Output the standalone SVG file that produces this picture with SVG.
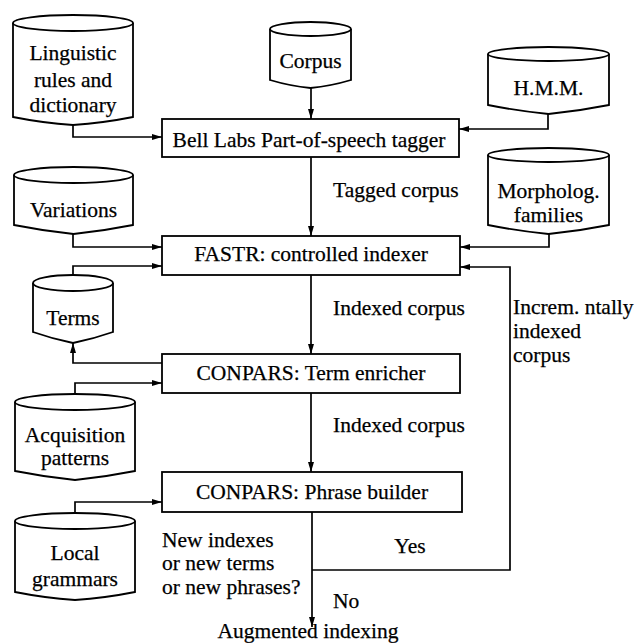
<svg xmlns="http://www.w3.org/2000/svg" width="640" height="643" viewBox="0 0 640 643">
<defs>
<marker id="arr" viewBox="0 0 10 6" refX="10" refY="3" markerWidth="10" markerHeight="6" markerUnits="userSpaceOnUse" orient="auto">
<path d="M0,0 L10,3 L0,6 Z" fill="#000"/>
</marker>
<style>
.sh{fill:#fff;stroke:#000;stroke-width:1.8}
.ln{fill:none;stroke:#000;stroke-width:1.7;marker-end:url(#arr)}
text{font-family:"Liberation Serif","Times New Roman",serif;font-size:21.5px;fill:#000;stroke:#000;stroke-width:0.25}
.c{text-anchor:middle}
</style>
</defs>
<rect width="640" height="643" fill="#fff"/>
<g id="connectors">
<path class="ln" d="M73,125 V137 H162"/>
<path class="ln" d="M311,88 V119"/>
<path class="ln" d="M548,114 V129 H459"/>
<path class="ln" d="M311,157 V236"/>
<path class="ln" d="M73,234 V247 H162"/>
<path class="ln" d="M549,234 V247 H460"/>
<path class="ln" d="M73,275 V266 H162"/>
<path class="ln" d="M312,570 H510 V267 H460"/>
<path class="ln" d="M311,275 V354"/>
<path class="ln" d="M162,363 H73 V343"/>
<path class="ln" d="M75,394 V383 H162"/>
<path class="ln" d="M311,393 V472"/>
<path class="ln" d="M75,513 V502 H162"/>
<path class="ln" d="M312,512 V627"/>
</g>
<g id="linguistic">
<path class="sh" d="M13,23 V117 Q43,123 73,125 Q103,123 133,117 V23"/>
<ellipse class="sh" cx="73" cy="23" rx="60" ry="8"/>
<text class="c" x="73" y="60">Linguistic</text>
<text class="c" x="73" y="87">rules and</text>
<text class="c" x="73" y="112">dictionary</text>
</g>
<g id="corpus">
<path class="sh" d="M270,29 V80 Q290,86 310.5,88 Q331,86 351,80 V29"/>
<ellipse class="sh" cx="310.5" cy="29" rx="40.5" ry="7"/>
<text class="c" x="310.5" y="68">Corpus</text>
</g>
<g id="hmm">
<path class="sh" d="M488,54 V105 Q518,111 548.5,114 Q579,111 609,105 V54"/>
<ellipse class="sh" cx="548.5" cy="54" rx="60.5" ry="7"/>
<text class="c" x="548.5" y="95">H.M.M.</text>
</g>
<g id="tagger">
<rect class="sh" x="162" y="119" width="297" height="38"/>
<text class="c" x="309" y="147">Bell Labs Part-of-speech tagger</text>
</g>
<g id="variations">
<path class="sh" d="M14,175 V225 Q44,231 73.5,234 Q103,231 133,225 V175"/>
<ellipse class="sh" cx="73.5" cy="175" rx="59.5" ry="8"/>
<text class="c" x="73.5" y="217">Variations</text>
</g>
<g id="morpholog">
<path class="sh" d="M488,155 V225 Q518,231 548.5,234 Q579,231 609,225 V155"/>
<ellipse class="sh" cx="548.5" cy="155" rx="60.5" ry="7"/>
<text class="c" x="548.5" y="198">Morpholog.</text>
<text class="c" x="548.5" y="222">families</text>
</g>
<g id="fastr">
<rect class="sh" x="162" y="236" width="298" height="39"/>
<text class="c" x="311" y="261">FASTR: controlled indexer</text>
</g>
<g id="terms">
<path class="sh" d="M33,283 V332 Q53,339 73,343 Q93,339 113,332 V283"/>
<ellipse class="sh" cx="73" cy="283" rx="40" ry="8"/>
<text class="c" x="73" y="325">Terms</text>
</g>
<g id="enricher">
<rect class="sh" x="162" y="354" width="298" height="39"/>
<text class="c" x="311" y="380">CONPARS: Term enricher</text>
</g>
<g id="acquisition">
<path class="sh" d="M15,402 V471 Q45,477 75,480 Q105,477 135,471 V402"/>
<ellipse class="sh" cx="75" cy="402" rx="60" ry="8"/>
<text class="c" x="75" y="442">Acquisition</text>
<text class="c" x="75" y="465">patterns</text>
</g>
<g id="phrase">
<rect class="sh" x="162" y="472" width="300" height="40"/>
<text class="c" x="312" y="499">CONPARS: Phrase builder</text>
</g>
<g id="local">
<path class="sh" d="M15,521 V592 Q45,598 75,600 Q105,598 135,592 V521"/>
<ellipse class="sh" cx="75" cy="521" rx="60" ry="8"/>
<text class="c" x="75" y="560">Local</text>
<text class="c" x="75" y="586">grammars</text>
</g>
<g id="labels">
<text x="333" y="197">Tagged corpus</text>
<text x="333" y="315">Indexed corpus</text>
<text x="513" y="314">Increm. ntally</text>
<text x="513" y="338">indexed</text>
<text x="513" y="362">corpus</text>
<text x="333" y="432">Indexed corpus</text>
<text x="162" y="547">New indexes</text>
<text x="162" y="570">or new terms</text>
<text x="162" y="594">or new phrases?</text>
<text class="c" x="410" y="553">Yes</text>
<text x="333" y="608">No</text>
<text class="c" x="308" y="638">Augmented indexing</text>
</g>
</svg>
